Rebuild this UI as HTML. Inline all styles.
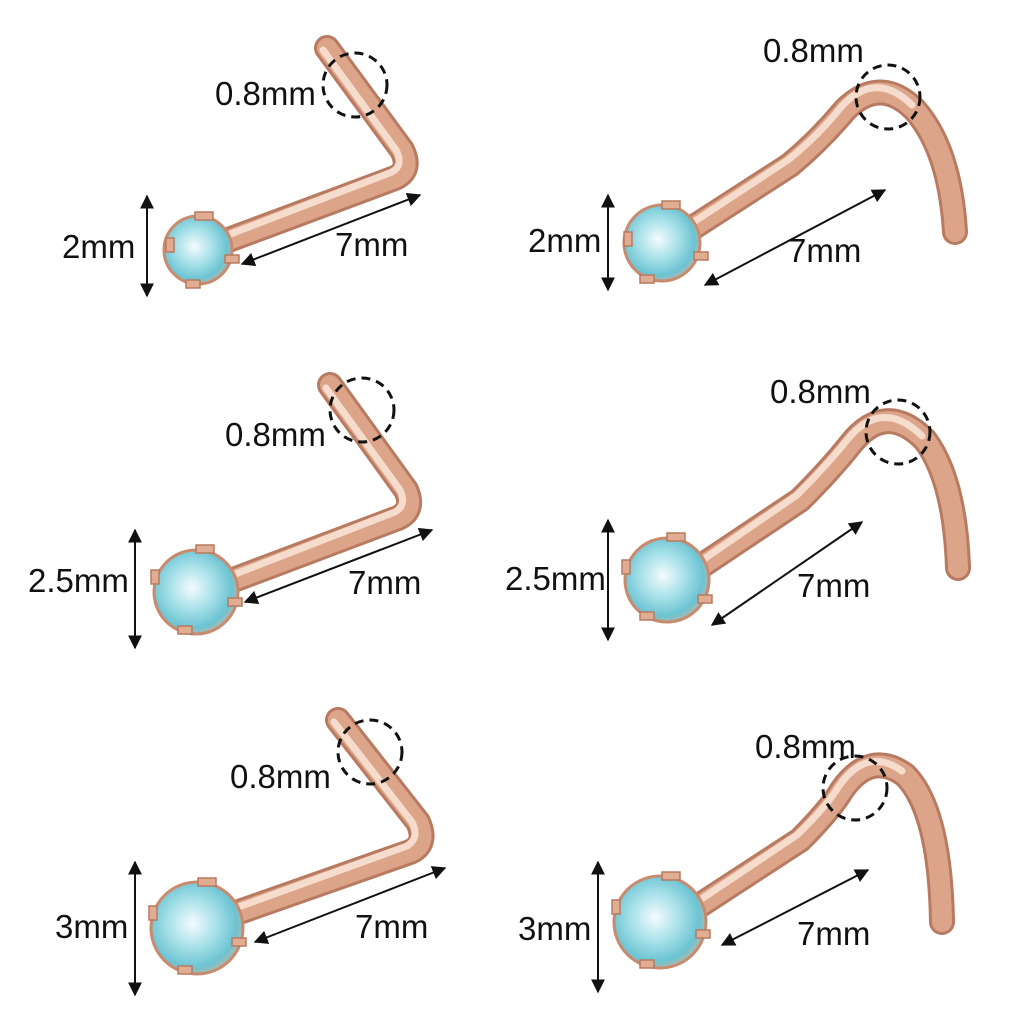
<!DOCTYPE html>
<html><head><meta charset="utf-8"><style>
html,body{margin:0;padding:0;background:#fff}
svg{display:block}
text{font-family:"Liberation Sans",sans-serif;font-size:33px;fill:#111}
</style></head><body>
<svg width="1024" height="1024" viewBox="0 0 1024 1024" xmlns="http://www.w3.org/2000/svg">
<defs>
<radialGradient id="g" cx="45%" cy="45%" r="60%">
<stop offset="0" stop-color="#f4fbff"/><stop offset="0.45" stop-color="#a5e0e8"/><stop offset="0.8" stop-color="#6cc3d2"/><stop offset="1" stop-color="#c8b6a0"/></radialGradient>
<marker id="a" viewBox="0 0 10 10" refX="9" refY="5" markerWidth="7" markerHeight="7" orient="auto-start-reverse"><path d="M0,0 L10,5 L0,10 z" fill="#111"/></marker>
</defs>
<g fill="none" stroke-linecap="round" stroke-linejoin="round">
<g stroke="#b87a60" stroke-width="26">
<path d="M215,245 L395,178 Q412,170 402,150 L327,48"/>
<path d="M680,236 L790,165 Q820,140 845,110 Q880,75 915,110 Q950,150 955,232"/>
<path d="M220,585 L398,518 Q415,510 406,490 L330,385"/>
<path d="M688,575 L800,500 Q830,470 850,445 Q885,400 925,440 Q955,480 958,568"/>
<path d="M222,918 L410,852 Q428,844 418,822 L338,720"/>
<path d="M685,915 L800,840 Q830,810 842,790 Q870,750 905,775 Q940,810 942,922"/>
</g>
<g stroke="#dca58a" stroke-width="20">
<path d="M215,245 L395,178 Q412,170 402,150 L327,48"/>
<path d="M680,236 L790,165 Q820,140 845,110 Q880,75 915,110 Q950,150 955,232"/>
<path d="M220,585 L398,518 Q415,510 406,490 L330,385"/>
<path d="M688,575 L800,500 Q830,470 850,445 Q885,400 925,440 Q955,480 958,568"/>
<path d="M222,918 L410,852 Q428,844 418,822 L338,720"/>
<path d="M685,915 L800,840 Q830,810 842,790 Q870,750 905,775 Q940,810 942,922"/>
</g>
<g stroke="#f6dccc" stroke-width="7">
<path d="M215,240 L392,172 Q404,165 396,150 L323,50"/>
<path d="M680,231 L788,160 Q818,136 842,106 Q876,70 912,105"/>
<path d="M220,580 L395,512 Q407,505 400,490 L326,388"/>
<path d="M688,570 L797,495 Q827,465 847,440 Q882,397 922,436"/>
<path d="M222,913 L407,846 Q420,838 412,822 L334,722"/>
<path d="M685,910 L797,835 Q827,806 839,786 Q867,746 902,771"/>
</g>
</g>
<g stroke="#c98a6e" stroke-width="3">
<circle cx="198" cy="250" r="34" fill="url(#g)"/>
<circle cx="662" cy="243" r="38" fill="url(#g)"/>
<circle cx="196" cy="592" r="42" fill="url(#g)"/>
<circle cx="667" cy="580" r="42" fill="url(#g)"/>
<circle cx="197" cy="928" r="46" fill="url(#g)"/>
<circle cx="660" cy="922" r="46" fill="url(#g)"/>
</g>
<!-- prongs -->
<g fill="#e0ac92" stroke="#b87a60" stroke-width="1.5">
<rect x="195" y="212" width="18" height="8"/><rect x="225" y="255" width="14" height="8"/><rect x="186" y="280" width="14" height="8"/><rect x="166" y="238" width="8" height="14"/>
<rect x="662" y="201" width="18" height="8"/><rect x="694" y="252" width="14" height="8"/><rect x="640" y="275" width="14" height="8"/><rect x="624" y="232" width="8" height="14"/>
<rect x="196" y="545" width="18" height="8"/><rect x="228" y="598" width="14" height="8"/><rect x="178" y="626" width="14" height="8"/><rect x="151" y="570" width="8" height="14"/>
<rect x="667" y="533" width="18" height="8"/><rect x="698" y="595" width="14" height="8"/><rect x="640" y="612" width="14" height="8"/><rect x="622" y="560" width="8" height="14"/>
<rect x="198" y="878" width="18" height="8"/><rect x="232" y="938" width="14" height="8"/><rect x="178" y="966" width="14" height="8"/><rect x="149" y="906" width="8" height="14"/>
<rect x="662" y="872" width="18" height="8"/><rect x="696" y="930" width="14" height="8"/><rect x="640" y="960" width="14" height="8"/><rect x="612" y="900" width="8" height="14"/>
</g>
<g fill="none" stroke="#111" stroke-width="3" stroke-dasharray="9,6">
<circle cx="355" cy="85" r="32"/>
<circle cx="888" cy="97" r="32"/>
<circle cx="362" cy="410" r="32"/>
<circle cx="898" cy="432" r="32"/>
<circle cx="370" cy="752" r="32"/>
<circle cx="855" cy="788" r="32"/>
</g>
<g stroke="#111" stroke-width="2" marker-start="url(#a)" marker-end="url(#a)">
<line x1="147" y1="196" x2="147" y2="296"/>
<line x1="242" y1="264" x2="420" y2="195"/>
<line x1="608" y1="195" x2="608" y2="290"/>
<line x1="705" y1="285" x2="885" y2="190"/>
<line x1="135" y1="530" x2="135" y2="648"/>
<line x1="245" y1="602" x2="432" y2="530"/>
<line x1="608" y1="520" x2="608" y2="640"/>
<line x1="712" y1="625" x2="862" y2="522"/>
<line x1="135" y1="862" x2="135" y2="995"/>
<line x1="255" y1="942" x2="445" y2="868"/>
<line x1="598" y1="862" x2="598" y2="992"/>
<line x1="722" y1="945" x2="868" y2="870"/>
</g>
<text x="215" y="105">0.8mm</text>
<text x="62" y="258">2mm</text>
<text x="335" y="256">7mm</text>
<text x="763" y="62">0.8mm</text>
<text x="528" y="252">2mm</text>
<text x="788" y="262">7mm</text>
<text x="225" y="446">0.8mm</text>
<text x="28" y="592">2.5mm</text>
<text x="348" y="594">7mm</text>
<text x="770" y="403">0.8mm</text>
<text x="505" y="590">2.5mm</text>
<text x="797" y="597">7mm</text>
<text x="230" y="788">0.8mm</text>
<text x="55" y="938">3mm</text>
<text x="355" y="938">7mm</text>
<text x="755" y="758">0.8mm</text>
<text x="518" y="940">3mm</text>
<text x="797" y="945">7mm</text>
</svg>
</body></html>
